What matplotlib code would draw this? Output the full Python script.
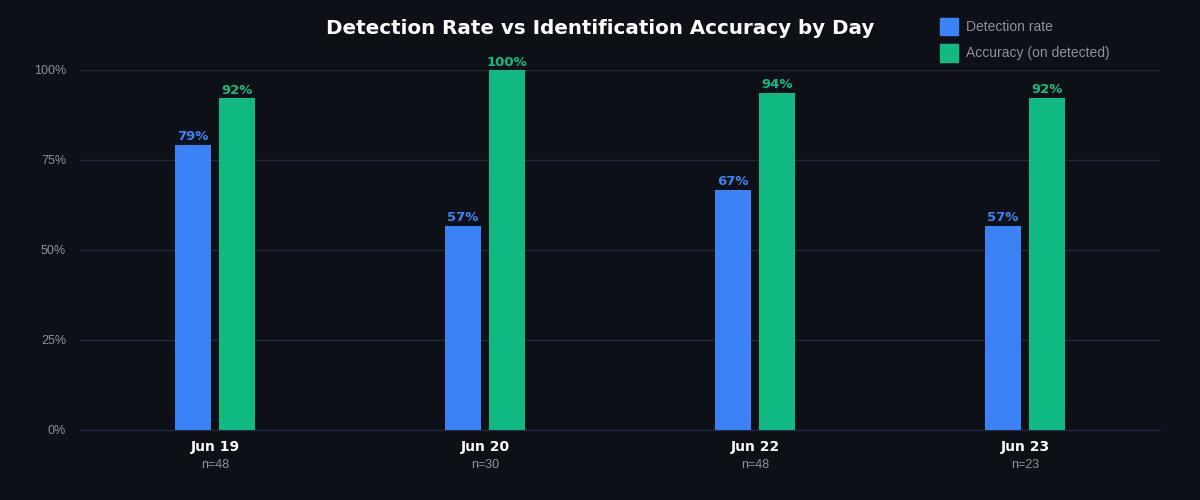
import matplotlib
matplotlib.use("Agg")
import matplotlib.pyplot as plt
from matplotlib.patches import Patch
import numpy as np

days = ["Jun 19", "Jun 20", "Jun 22", "Jun 23"]
counts = [48, 30, 48, 23]
detection = [0.792, 0.567, 0.667, 0.567]
accuracy = [0.921, 1.0, 0.9375, 0.923]

bg = "#0d1017"
blue = "#3b82f6"
green = "#10b981"
grid_c = "#1e293b"
muted = "#8b929c"

fig = plt.figure(figsize=(12, 5), dpi=100, facecolor=bg)
ax = fig.add_axes([80/1200, 70/500, 1080/1200, 360/500])
ax.set_facecolor(bg)

x = np.arange(len(days))
w = 0.13
off = 0.0815
b1 = ax.bar(x - off, detection, w, color=blue, zorder=3)
b2 = ax.bar(x + off, accuracy, w, color=green, zorder=3)

for rect, v in zip(b1, detection):
    ax.text(rect.get_x() + rect.get_width()/2, v + 0.004, f"{v*100:.0f}%",
            ha="center", va="bottom", color=blue, fontsize=9.5, fontweight="bold")
for rect, v in zip(b2, accuracy):
    ax.text(rect.get_x() + rect.get_width()/2, v + 0.004, f"{v*100:.0f}%",
            ha="center", va="bottom", color=green, fontsize=9.5, fontweight="bold")

ax.set_xlim(-0.5, len(days) - 0.5)
ax.set_ylim(0, 1.0)
ax.set_yticks([0, 0.25, 0.5, 0.75, 1.0])
ax.set_yticklabels(["0%", "25%", "50%", "75%", "100%"], family="Liberation Sans",
                   fontsize=9, color=muted)
ax.grid(axis="y", color=grid_c, linewidth=1, zorder=0)
ax.axhline(0, color=grid_c, linewidth=1, zorder=1, clip_on=False)
ax.tick_params(axis="y", length=0, pad=10)
ax.set_xticks(x)
ax.set_xticklabels([])
ax.tick_params(axis="x", length=0)
for s in ax.spines.values():
    s.set_visible(False)

for xi, d, n in zip(x, days, counts):
    ax.text(xi, -0.028, d, transform=ax.get_xaxis_transform(), ha="center", va="top",
            color="white", fontsize=10, fontweight="bold")
    ax.text(xi, -0.08, f"n={n}", transform=ax.get_xaxis_transform(), ha="center", va="top",
            color=muted, fontsize=9, family="Liberation Sans")

fig.text(0.5, 0.942, "Detection Rate vs Identification Accuracy by Day", ha="center",
         va="center", color="white", fontsize=14.3, fontweight="bold")

handles = [Patch(color=blue, label="Detection rate"),
           Patch(color=green, label="Accuracy (on detected)")]
fig.legend(handles=handles, loc="upper left", bbox_to_anchor=(927/1200, 1 - 5/500),
           frameon=False, prop={"family": "Liberation Sans", "size": 10},
           labelcolor=muted, handlelength=1.35, handleheight=1.6, handletextpad=0.55,
           labelspacing=0.6)

fig.savefig("out.png", facecolor=bg)
